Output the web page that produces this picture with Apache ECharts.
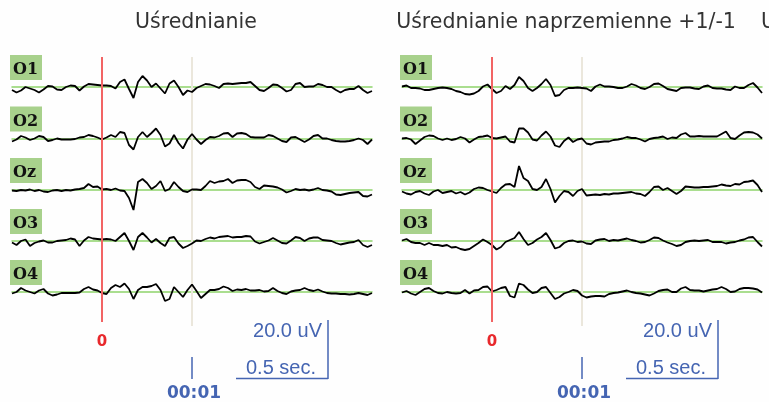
<!DOCTYPE html>
<html><head><meta charset="utf-8">
<script src="https://cdn.jsdelivr.net/npm/echarts@6/dist/echarts.min.js"></script>
<style>html,body{margin:0;padding:0;background:#fefefe;}#c{width:769px;height:402px;}</style>
</head><body><div id="c"></div>
<script>
// time in seconds relative to stimulus
const times = [-1,-0.95,-0.9,-0.85,-0.8,-0.75,-0.7,-0.65,-0.6,-0.55,-0.5,-0.45,-0.4,-0.35,-0.3,-0.25,-0.2,-0.15,-0.1,-0.05,
 0,0.05,0.1,0.15,0.2,0.25,0.3,0.35,0.4,0.45,0.5,0.55,0.6,0.65,0.7,0.75,0.8,0.85,0.9,0.95,
 1,1.05,1.1,1.15,1.2,1.25,1.3,1.35,1.4,1.45,1.5,1.55,1.6,1.65,1.7,1.75,1.8,1.85,1.9,1.95,
 2,2.05,2.1,2.15,2.2,2.25,2.3,2.35,2.4,2.45,2.5,2.55,2.6,2.65,2.7,2.75,2.8,2.85,2.9,2.95,3];
const channels = ['O1','O2','Oz','O3','O4'];
const panelTitles = ['Uśrednianie','Uśrednianie naprzemienne +1/-1'];
const zeroLabel = '0', markLabel = '00:01', ampLabel = '20.0 uV', timeLabel = '0.5 sec.';
const zeroTime = 0, markTime = 1;

// Panel 1: Uśrednianie
const avgO1 = [-3,-5.5,-3.5,0,-1.5,-3,-5.5,-2.5,1,0.5, -2.5,-3,0,1.5,1,-3.5,0.5,3,2.5,2, 1.5,1.5,1,-1.5,5,7.5,-2,-11,5,11, 6.5,0,3.5,-1.5,-6.5,3.5,6.5,0,-8,-3.5, -5,-1,1,3,2.5,1,-1,3,3.5,3, 3.5,4,4,5,1,-3,-4,-1,2.5,2, -1,-4.5,-3,3,4,0,0.5,0.5,3,2, 0,0,-3,-5.5,-3,-2,-2,1,-3,-6, -4];
const avgO2 = [-3,-1,2.5,1,-1.5,0,2.5,1.5,-2.5,-1.5, 0,-1,-1,-1,-0.5,1,1.5,3.5,2.5,1, -1,1,3.5,1.5,6.5,5.5,-6.5,-11,1.5,6.5, 1.5,5.5,10,3.5,-8,-5,3.5,-4.5,-10,-1, 4.5,-1,-5.5,-1.5,1.5,1,2.5,5,5.5,1.5, 5,5.5,4.5,1.5,1,1,1,3.5,2.5,0, -2.5,-3.5,1,1.5,-1,-3.5,-1,2.5,3.5,0, 0,-1.5,-2.5,-3,-3,-2.5,-1.5,0,-1.5,-5.5, -1];
const avgOz = [-0.5,-1,0,-0.5,0.5,-1,0,-1.5,-2,-0.5, 0,-1,0,-0.5,0.5,1,2,6,3,3.5, 0.5,1,0,1.5,-0.5,-1,-8,-20,8,11, 7,1,4,9,-1,1,8,3,-1,-2, 0.5,0.5,0,4,9,7,8.5,9,11,7, 9.5,10,10,8,3,1,4.5,4,3.5,2.5, 0.5,-2.5,-1,1,0,0.5,-0.5,0.5,2,0, -0.5,-1.5,-4.5,-5,-4,-3,-2.5,-2,-6,-6.5, -4.5];
const avgO3 = [-1.5,-4,0,1.5,-5,-2,-0.5,0.5,-1.5,-1.5, 0,0.5,1,2.5,1.5,-5,0.5,4,2.5,2, 1.5,2,1.5,0,4,8,0,-9,4,8, 3.5,-1.5,2,-2,-5,3,4,-2.5,-7,-5, -2.5,0.5,0,2,3.5,2.5,4,4.5,5,3.5, 4,4,5,4.5,-0.5,-2.5,-1,0.5,3,0.5, -2,-2.5,0.5,4,3,0,2.5,3.5,3.5,1, 0.5,0,-2,-3.5,-2.5,-1.5,-1,1,-4,-6, -4];
const avgO4 = [-1.5,0,4,1.5,0,-1.5,1.5,3,-1.5,-3.5, -2.5,-1,-1,-1,-1,-0.5,3,5,2.5,1.5, -1,-2,4,7,5,8.5,3,-7,2,5, 5,6,8,2,-9,-7,5,0,-5,2, 7.5,1,-6,-2,2,2,3,5.5,4,1, 2.5,2,3,1.5,1.5,2,0.5,1,4,1, -1,-2,0.5,1.5,2,4,2,1,2.5,0.5, -1,-1.5,-1.5,-2,-2,-2.5,-2,-1,-2,-3, -1];

// Panel 2: Uśrednianie naprzemienne +1/-1
const altO1 = [0.5,1.5,-1,-1,-1.5,-3,-3,-2,-1,-0.5, -1,-2,-4,-5,-7,-7.5,-6.5,-4,0.5,2.5, -2,-6,-4,1,-2,2,10,6,-1,-4, -1,3,8,2,-9,-8,-3,-1,-1,-0.5, -1,-1.5,-4,0.5,2.5,0.5,0.5,0,-1,-1, 0.5,3,1.5,-1,-2,0,3,3.5,1,-2, -3,-4,-1,-0.5,-0.5,-1.5,-2,0.5,1.5,-1, -1.5,-1.5,-2.5,-3,0.5,-1,-1,2,4,-0.5, -6];
const altO2 = [0,0.5,-1,-5.5,-2,1.5,3,2.5,0,-1.5, 0,-1.5,-0.5,1.5,0,-4,-1,1.5,2,3, 0.5,0,1,2,-3,-4,10,10,6,-1, -2,3,7,2,-7,-8.5,-2.5,1,-3.5,-1, 0,-5,-6,-4,-3.5,-3,-3,-1.5,-1,0, 1.5,0.5,0.5,-1,-3,-0.5,0.5,1,2,-0.5, 1,0.5,4,5.5,2,2,2.5,2,2,2, 2,4.5,7,0.5,-0.5,3,6,6.5,6,4, 0];
const altOz = [-1.5,-3.5,-4.5,-2,-1,-3.5,-5,-1.5,0,-3, -2,-1,-3.5,-2,-4.5,-2.5,1,2.5,2,0, -1.5,-3,2,5.5,6,3,24,12,9,1, 0,3,11,1,-12.5,-6,-1,-2,-6,-1, 1,-5.5,-5,-4.5,-5,-4,-4.5,-3.5,-3.5,-3, -2.5,-2,-3.5,-4,-6,-2,3,3.5,0,2, -1,-4,-1,3.5,3,2.5,2.5,3,3,3.5, 4,5.5,4.5,4,6,5.5,8,8.5,9.5,5, -2];
const altO3 = [0.5,2,-1,-2,-2,-4,-2,-4,-4,-5, -4,-6.5,-6,-8,-9,-8,-5,-2,1.5,-1, -4,-8.5,-6,-1,1,3,9,2,-4,-2, 1.5,4,8,1,-7.5,-6,-2,0,0.5,-1, -0.5,-2.5,-3,0.5,1.5,2,0,1,0.5,1.5, 2.5,1,0,-1.5,-1,1,3.5,3,0.5,-1.5, -3,-5,-4,-1,0,0.5,0,0.5,1,-1, -1,-1,-2.5,-1.5,-1,0.5,1.5,3.5,4,-1, -5.5];
const altO4 = [-0.5,1,-1.5,-3,0,3,4,1,-1,-1.5, 0,-1,-1.5,-1,2,-1.5,1.5,2,5,5.5, 0.5,2,4,5,-4,-5.5,8.5,7,2.5,-1, 0,4,5,-1,-7,-5,-1.5,0,2,1, -3.5,-5.5,-4.5,-4,-4,-4.5,-2,-1,-0.5,0.5, 1.5,0,-1,-1.5,-2.5,-3.5,-1.5,1,2,2.5, 0,0,3.5,5,2,1.5,1.5,0.5,1.5,2.5, 3,5,3,0,0.5,3,4,4,3.5,2.5, -0.5];

const panelData = [[avgO1,avgO2,avgOz,avgO3,avgO4],[altO1,altO2,altOz,altO3,altO4]];

// layout
const panelLeft = [12, 402];
const plotW = 360;
const baselines = [87, 138.5, 190, 241, 292];
const half = 25;
const BLUE = '#4565b2';

const grid = [], xAxis = [], yAxis = [], series = [], graphic = [];
let gi = 0;
const centered = {align: 'center', verticalAlign: 'middle', textAlign: 'center', textVerticalAlign: 'middle'};
const righted = {align: 'right', verticalAlign: 'middle', textAlign: 'right', textVerticalAlign: 'middle'};
const lefted = {align: 'left', verticalAlign: 'middle', textAlign: 'left', textVerticalAlign: 'middle'};

panelData.forEach((chs, p) => {
  // frame grid (pixel-row y axis) for the time markers
  grid.push({left: panelLeft[p], width: plotW, top: 0, height: 402});
  xAxis.push({gridIndex: gi, type: 'value', min: -1, max: 3, show: false});
  yAxis.push({gridIndex: gi, type: 'value', min: 0, max: 402, inverse: true, show: false});
  const fi = gi;
  const mk = (t, y1, y2, color, w, zl) => ({type: 'line', xAxisIndex: fi, yAxisIndex: fi, zlevel: zl, z: 1, silent: true,
    animation: false, symbol: 'none', showSymbol: false,
    lineStyle: {color: color, width: w},
    data: [[t, y1], [t, y2]]});
  series.push(mk(markTime, 57, 326, '#ebe7dc', 2, 0));
  series.push(mk(zeroTime, 57, 322, '#f26464', 2, 2));
  series.push(mk(markTime, 357, 379, BLUE, 1.5, 0));
  gi++;

  chs.forEach((vals, c) => {
    grid.push({left: panelLeft[p], width: plotW, top: baselines[c] - half, height: half * 2});
    xAxis.push({gridIndex: gi, type: 'value', min: -1, max: 3,
      axisLine: {show: true, onZero: true, lineStyle: {color: '#8fd36b', width: 1.5}},
      axisTick: {show: false}, axisLabel: {show: false}, splitLine: {show: false}});
    yAxis.push({gridIndex: gi, type: 'value', min: -half, max: half,
      axisLine: {show: false}, axisTick: {show: false}, axisLabel: {show: false}, splitLine: {show: false}});
    series.push({type: 'line', xAxisIndex: gi, yAxisIndex: gi, zlevel: 1, z: 4, animation: false,
      symbol: 'none', showSymbol: false, silent: true,
      lineStyle: {color: '#000', width: 1.8},
      data: times.map((t, i) => [t, vals[i]])});
    gi++;
  });

  const L = panelLeft[p];
  const off = L - 12;
  // channel labels
  channels.forEach((name, c) => {
    const top = baselines[c] - 32;
    graphic.push({type: 'rect', shape: {x: L - 2, y: top, width: 32, height: 25}, style: {fill: '#a8d18c'}, z: 10});
    graphic.push({type: 'text', x: L + 1, y: baselines[c] - 17, z: 11,
      style: Object.assign({text: name, font: 'bold 16px "DejaVu Serif"', fill: '#111'}, lefted)});
  });
  // scale bar
  graphic.push({type: 'line', shape: {x1: 328 + off, y1: 320, x2: 328 + off, y2: 379}, style: {stroke: BLUE, lineWidth: 1.5}});
  graphic.push({type: 'line', shape: {x1: 236 + off, y1: 378.5, x2: 328 + off, y2: 378.5}, style: {stroke: BLUE, lineWidth: 1.5}});
  graphic.push({type: 'text', x: 322 + off, y: 331, style: Object.assign({text: ampLabel, font: '20px "Liberation Sans"', fill: BLUE}, righted)});
  graphic.push({type: 'text', x: 316 + off, y: 368, style: Object.assign({text: timeLabel, font: '20px "Liberation Sans"', fill: BLUE}, righted)});
  graphic.push({type: 'text', x: 102 + off, y: 342, style: Object.assign({text: zeroLabel, font: 'bold 15px "DejaVu Sans"', fill: '#e8282c'}, centered)});
  graphic.push({type: 'text', x: 194 + off, y: 394, style: Object.assign({text: markLabel, font: 'bold 17px "DejaVu Sans"', fill: BLUE}, centered)});
});
// titles
const titleFont = '20.5px "DejaVu Sans"';
graphic.push({type: 'text', x: 196, y: 23, style: Object.assign({text: panelTitles[0], font: titleFont, fill: '#333'}, centered)});
graphic.push({type: 'text', x: 566, y: 23, style: Object.assign({text: panelTitles[1], font: titleFont, fill: '#333'}, centered)});
graphic.push({type: 'text', x: 761, y: 23, style: Object.assign({text: panelTitles[0], font: titleFont, fill: '#333'}, lefted)});

const chart = echarts.init(document.getElementById('c'), null, {renderer: 'canvas'});
chart.setOption({backgroundColor: '#fefefe', animation: false, grid, xAxis, yAxis, series, graphic});
</script></body></html>
